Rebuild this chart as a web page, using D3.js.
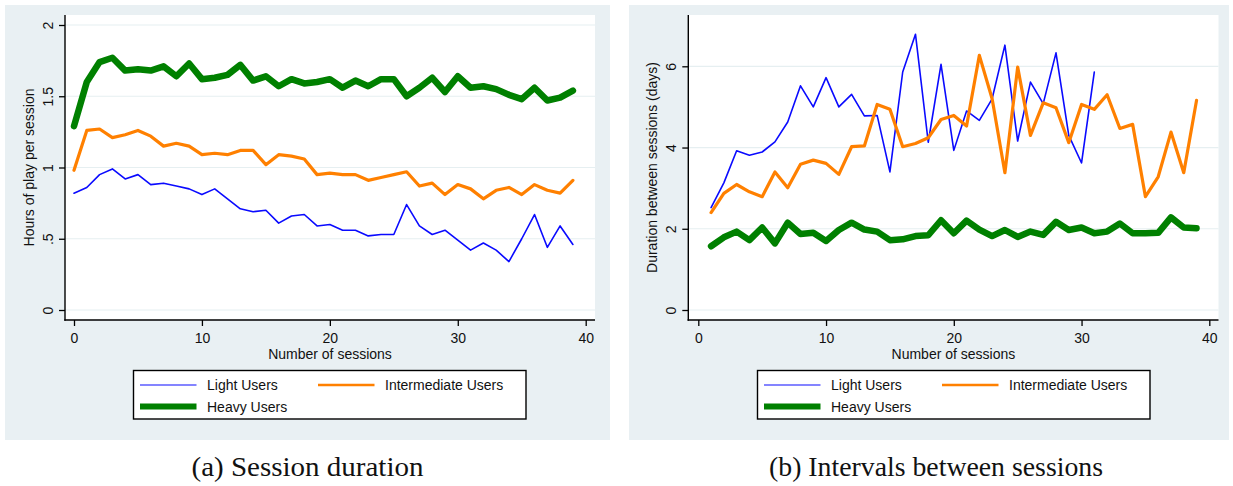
<!DOCTYPE html>
<html>
<head>
<meta charset="utf-8">
<script src="https://cdn.jsdelivr.net/npm/d3@7"></script>
<style>
body { margin: 0; background: #fff; }
text { font-family: "Liberation Sans", Arial, sans-serif; fill: #111; }
.caption { font-family: "Liberation Serif", "DejaVu Serif", serif; }
</style>
</head>
<body>
<svg id="chart"></svg>
<script>
var w = 1233;
var h = 486;

// panel (a): hours of play per session, sessions 0..39
var sessionsA = [0,1,2,3,4,5,6,7,8,9,10,11,12,13,14,15,16,17,18,19,20,21,22,23,24,25,26,27,28,29,30,31,32,33,34,35,36,37,38,39];
var lightDur = [0.82,0.86,0.95,0.99,0.92,0.95,0.88,0.89,0.87,0.85,0.81,0.85,0.78,0.71,0.69,0.70,0.61,0.66,0.67,0.59,0.60,0.56,0.56,0.52,0.53,0.53,0.74,0.59,0.53,0.56,0.49,0.42,0.47,0.42,0.34,0.50,0.67,0.44,0.59,0.46];
var interDur = [0.98,1.26,1.27,1.21,1.23,1.26,1.22,1.15,1.17,1.15,1.09,1.10,1.09,1.12,1.12,1.02,1.09,1.08,1.06,0.95,0.96,0.95,0.95,0.91,0.93,0.95,0.97,0.87,0.89,0.81,0.88,0.85,0.78,0.84,0.86,0.81,0.88,0.84,0.82,0.91];
var heavyDur = [1.29,1.60,1.74,1.77,1.68,1.69,1.68,1.71,1.64,1.73,1.62,1.63,1.65,1.72,1.61,1.64,1.57,1.62,1.59,1.60,1.62,1.56,1.61,1.57,1.62,1.62,1.50,1.56,1.63,1.53,1.64,1.56,1.57,1.55,1.51,1.48,1.56,1.47,1.49,1.54];

// panel (b): days between sessions, sessions 1..39 (light users stop at 31)
var sessionsB = [1,2,3,4,5,6,7,8,9,10,11,12,13,14,15,16,17,18,19,20,21,22,23,24,25,26,27,28,29,30,31,32,33,34,35,36,37,38,39];
var lightGap = [2.52,3.13,3.92,3.81,3.89,4.14,4.63,5.52,5.00,5.72,5.00,5.31,4.78,4.79,3.40,5.86,6.79,4.13,6.05,3.93,4.90,4.67,5.20,6.52,4.16,5.61,5.08,6.33,4.30,3.62,5.86];
var interGap = [2.40,2.87,3.09,2.91,2.79,3.40,3.01,3.59,3.69,3.61,3.34,4.02,4.04,5.06,4.94,4.02,4.10,4.24,4.69,4.79,4.53,6.27,5.20,3.38,5.98,4.30,5.10,4.98,4.12,5.06,4.94,5.30,4.47,4.57,2.79,3.28,4.38,3.38,5.16];
var heavyGap = [1.57,1.79,1.93,1.72,2.03,1.64,2.15,1.87,1.90,1.70,1.97,2.15,1.98,1.93,1.72,1.74,1.82,1.84,2.21,1.89,2.20,1.98,1.82,1.97,1.80,1.93,1.85,2.17,1.97,2.03,1.89,1.93,2.13,1.89,1.89,1.90,2.28,2.03,2.01];

var xTicks = [0, 10, 20, 30, 40];
var yTicksA = [0, 0.5, 1, 1.5, 2];
var yTickLabelsA = ["0", ".5", "1", "1.5", "2"];
var yTicksB = [0, 2, 4, 6];
var yTickLabelsB = ["0", "2", "4", "6"];
var seriesNames = ["Light Users", "Intermediate Users", "Heavy Users"];

var colors = ["#0a0aff", "#ff8000", "#008000"];
var widths = [1.6, 3.2, 6.5];

var svg = d3.select("#chart")
    .attr("width", w)
    .attr("height", h);

drawPanel({
    bgX: 5, bgW: 605,
    left: 65, right: 595, x0: 74, x40: 585.7,
    yDomain: [0, 2], yRange: [310, 25],
    yTicks: yTicksA, yLabels: yTickLabelsA,
    yTitle: "Hours of play per session", yTitleX: 34,
    xs: [sessionsA, sessionsA, sessionsA],
    ys: [lightDur, interDur, heavyDur],
    legX: 133.5, legW: 392.5,
    caption: "(a) Session duration", capX: 307.5, capLen: 232
});

drawPanel({
    bgX: 629, bgW: 600,
    left: 688.3, right: 1218.5, x0: 698.3, x40: 1209.3,
    yDomain: [0, 6], yRange: [310, 66.3],
    yTicks: yTicksB, yLabels: yTickLabelsB,
    yTitle: "Duration between sessions (days)", yTitleX: 657,
    xs: [sessionsB.slice(0, lightGap.length), sessionsB, sessionsB],
    ys: [lightGap, interGap, heavyGap],
    legX: 757.5, legW: 392.5,
    caption: "(b) Intervals between sessions", capX: 936, capLen: 334
});

function drawPanel(p) {
    var g = svg.append("g");
    var top = 15, bottom = 320;

    g.append("rect")
        .attr("x", p.bgX)
        .attr("y", 5)
        .attr("width", p.bgW)
        .attr("height", 435)
        .attr("fill", "#e9f0f3");

    g.append("rect")
        .attr("x", p.left)
        .attr("y", top)
        .attr("width", p.right - p.left)
        .attr("height", bottom - top)
        .attr("fill", "#fff");

    var x = d3.scaleLinear().domain([0, 40]).range([p.x0, p.x40]);
    var y = d3.scaleLinear().domain(p.yDomain).range(p.yRange);

    // grid
    g.selectAll(".grid")
        .data(p.yTicks)
        .enter().append("line")
        .attr("x1", p.left)
        .attr("x2", p.right)
        .attr("y1", function(d) { return y(d); })
        .attr("y2", function(d) { return y(d); })
        .attr("stroke", "#e6eff1")
        .attr("stroke-width", 1.2);

    // lines
    for (var s = 0; s < 3; s++) {
        var pts = p.xs[s].map(function(v, i) { return [v, p.ys[s][i]]; });
        g.append("path")
            .datum(pts)
            .attr("fill", "none")
            .attr("stroke", colors[s])
            .attr("stroke-width", widths[s])
            .attr("stroke-linejoin", "round")
            .attr("stroke-linecap", "round")
            .attr("d", d3.line()
                .x(function(d) { return x(d[0]); })
                .y(function(d) { return y(d[1]); }));
    }

    // x axis
    var xa = g.append("g")
        .attr("transform", "translate(0," + bottom + ")")
        .call(d3.axisBottom(x).tickValues(xTicks).tickSize(6).tickPadding(7));
    xa.select(".domain").remove();
    xa.selectAll("line").attr("stroke", "#000").attr("stroke-width", 1.3);
    xa.selectAll("text").attr("font-size", 14).attr("fill", "#111")
        .style("font-family", "'Liberation Sans', Arial, sans-serif");

    // y axis, labels turned like stata
    var ya = g.append("g")
        .attr("transform", "translate(" + p.left + ",0)")
        .call(d3.axisLeft(y).tickValues(p.yTicks).tickSize(6)
            .tickFormat(function(d, i) { return p.yLabels[i]; }));
    ya.select(".domain").remove();
    ya.selectAll("line").attr("stroke", "#000").attr("stroke-width", 1.3);
    ya.selectAll("text")
        .attr("x", 0)
        .attr("dy", 0)
        .attr("transform", "translate(-12,0) rotate(-90)")
        .attr("text-anchor", "middle")
        .attr("font-size", 14)
        .attr("fill", "#111")
        .style("font-family", "'Liberation Sans', Arial, sans-serif");

    g.append("line")
        .attr("x1", p.left).attr("x2", p.left)
        .attr("y1", top).attr("y2", bottom + 0.7)
        .attr("stroke", "#000").attr("stroke-width", 1.4);
    g.append("line")
        .attr("x1", p.left - 0.7).attr("x2", p.right)
        .attr("y1", bottom).attr("y2", bottom)
        .attr("stroke", "#000").attr("stroke-width", 1.4);

    g.append("text")
        .attr("transform", "translate(" + p.yTitleX + "," + ((top + bottom) / 2) + ") rotate(-90)")
        .attr("text-anchor", "middle")
        .attr("font-size", 14)
        .text(p.yTitle);

    g.append("text")
        .attr("x", (p.left + p.right) / 2)
        .attr("y", 359)
        .attr("text-anchor", "middle")
        .attr("font-size", 14)
        .text("Number of sessions");

    // legend
    var leg = g.append("g");
    leg.append("rect")
        .attr("x", p.legX)
        .attr("y", 370.5)
        .attr("width", p.legW)
        .attr("height", 48.5)
        .attr("fill", "#fff")
        .attr("stroke", "#000")
        .attr("stroke-width", 1.4);
    var slots = [[0, 385], [178, 385], [0, 406.5]];
    for (var k = 0; k < 3; k++) {
        leg.append("line")
            .attr("x1", p.legX + 6.5 + slots[k][0])
            .attr("x2", p.legX + 63 + slots[k][0])
            .attr("y1", slots[k][1])
            .attr("y2", slots[k][1])
            .attr("stroke", colors[k])
            .attr("stroke-width", widths[k] - 0.5);
        leg.append("text")
            .attr("x", p.legX + 73.5 + slots[k][0])
            .attr("y", slots[k][1] + 5)
            .attr("font-size", 14)
            .text(seriesNames[k]);
    }

    g.append("text")
        .attr("class", "caption")
        .attr("x", p.capX)
        .attr("y", 476)
        .attr("text-anchor", "middle")
        .attr("font-size", 27)
        .attr("textLength", p.capLen)
        .attr("lengthAdjust", "spacingAndGlyphs")
        .text(p.caption);
}
</script>
</body>
</html>
